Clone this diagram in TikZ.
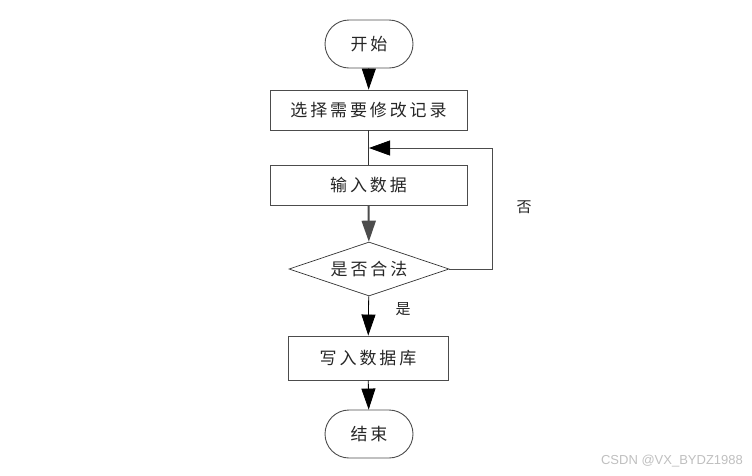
\documentclass[tikz,border=0pt]{standalone}
\usepackage{fontspec}
\newfontfamily\cjk[LetterSpace=17]{Noto Sans CJK SC}
\setsansfont{Liberation Sans}
\usetikzlibrary{arrows.meta,shapes.geometric}
\begin{document}
\begin{tikzpicture}[x=1pt,y=-1pt,
  every node/.style={font=\cjk\fontsize{17}{20}\selectfont, text=black!85, inner sep=0pt},
  term/.style={draw=black!70, line width=0.9pt, rounded corners=24pt, minimum width=88pt, minimum height=48pt},
  proc/.style={draw=black!70, line width=0.9pt, minimum height=40pt},
  deci/.style={draw=black!80, line width=0.7pt, diamond, aspect=2.96, minimum width=160pt, minimum height=54pt},
  flow/.style={draw=black, line width=0.8pt, -{Triangle[length=21pt,width=14pt]}},
  lbl/.style={font=\cjk\fontsize{15}{18}\selectfont}
]
\useasboundingbox (0,0) rectangle (752,475);
\node[term] (start) at (369,44) {开始};
\node[proc, minimum width=197pt] (sel) at (368.5,110) {选择需要修改记录};
\node[proc, minimum width=197pt] (inp) at (368.5,185) {输入数据};
\node[deci] (chk) at (369,269) {是否合法};
\node[proc, minimum width=160pt, minimum height=44pt] (wr) at (368,358) {写入数据库};
\node[term] (end) at (369,434) {结束};
\coordinate (c1) at (492,269);
\coordinate (c2) at (492,148);
\coordinate (m) at (369,148);
\draw[flow] (start) -- (sel);
\draw[draw=black!80, line width=0.8pt] (sel) -- (inp);
\draw[flow, draw=black!70, line width=2pt] (inp) -- (chk);
\draw[draw=black!70, line width=0.8pt, -{Triangle[length=21pt,width=15pt,color=black]}] (chk.east) -- (c1) -- (c2) -- (m);
\draw[flow] (chk) -- (wr);
\draw[flow] (wr) -- (end);
\node[lbl] (no) at (524,207) {否};
\node[lbl] (yes) at (403,309) {是};
\node[font=\sffamily\fontsize{13}{15}\selectfont, text=black!25] (wm) at (672,461) {CSDN @VX\_BYDZ1988};
\end{tikzpicture}
\end{document}
